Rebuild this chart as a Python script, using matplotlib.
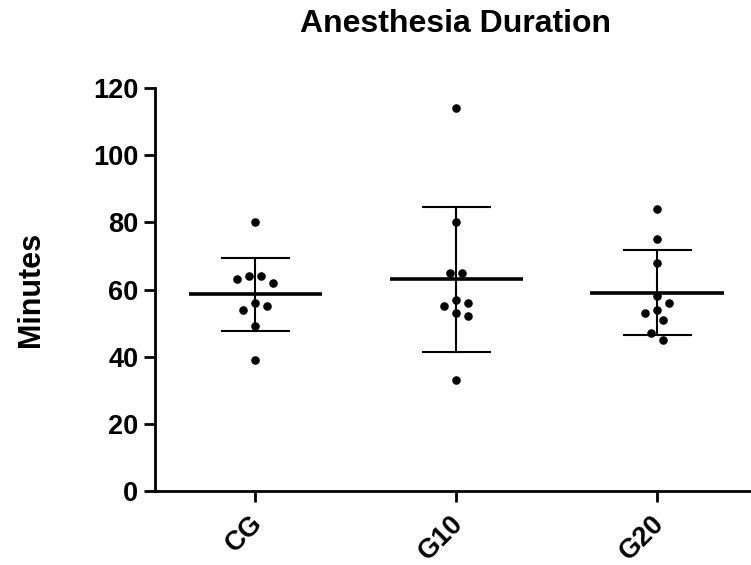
import numpy as np
import matplotlib
matplotlib.use("Agg")
import matplotlib.pyplot as plt
from matplotlib.transforms import ScaledTranslation

plt.rcParams['font.family'] = ['Liberation Sans', 'DejaVu Sans']
plt.rcParams['font.weight'] = 'bold'

# data (minutes)
groups = ['CG', 'G10', 'G20']
cg = [80, 64, 63, 62, 64, 56, 54, 55, 49, 39]
g10 = [114, 80, 65, 65, 56, 57, 55, 53, 52, 33]
g20 = [84, 75, 68, 58, 56, 54, 53, 51, 47, 45]
values = [cg, g10, g20]
yticks = [0, 20, 40, 60, 80, 100, 120]

fig = plt.figure(figsize=(7.51, 5.65), dpi=100)
ax = fig.add_axes([0.2064, 0.131, 0.7936, 0.7132])
ax.set_xlim(-0.5, 2.466)
ax.set_ylim(0, 120)


def swarm(vals, center, step_px=6.0, min_px=11.0, gap_px=12.5):
    # beeswarm in pixel space: greedy placement, then each cluster re-centred
    pts = ax.transData.transform([(center, v) for v in vals])
    ys = pts[:, 1]
    order = list(np.argsort(vals)[::-1])
    clusters = [[order[0]]]
    for a, b in zip(order[:-1], order[1:]):
        if ys[a] - ys[b] > gap_px:
            clusters.append([b])
        else:
            clusters[-1].append(b)
    cands = [0]
    for k in range(1, 8):
        cands += [k, -k]
    offs = np.zeros(len(vals))
    for cl in clusters:
        placed = []
        for i in cl:
            for c in cands:
                dx = c * step_px
                if all((dx - px) ** 2 + (ys[i] - py) ** 2 >= min_px ** 2 for px, py in placed):
                    break
            placed.append((dx, ys[i]))
            offs[i] = dx
        mid = (offs[cl].max() + offs[cl].min()) / 2
        offs[cl] -= round(mid / step_px) * step_px
    unit = ax.transData.transform([(1, 0)])[0, 0] - ax.transData.transform([(0, 0)])[0, 0]
    return center + offs / unit


for i, vals in enumerate(values):
    v = np.array(vals, dtype=float)
    m = v.mean()
    sd = v.std(ddof=1)
    xs = swarm(v, i)
    ax.scatter(xs, v, s=38, color='black', zorder=3, linewidths=0)
    ax.plot([i - 0.333, i + 0.333], [m, m], color='black', lw=2.6, zorder=2,
            solid_capstyle='butt')
    ax.plot([i, i], [m - sd, m + sd], color='black', lw=1.5, zorder=2)
    for e in (m - sd, m + sd):
        ax.plot([i - 0.17, i + 0.17], [e, e], color='black', lw=1.5, zorder=2,
                solid_capstyle='butt')

ax.spines['top'].set_visible(False)
ax.spines['right'].set_visible(False)
ax.spines['left'].set_linewidth(2)
ax.spines['bottom'].set_linewidth(2)

ax.set_yticks(yticks)
ax.set_yticklabels([str(t) for t in yticks], fontsize=19.5, fontweight='bold')
ax.set_xticks(range(len(groups)))
ax.set_xticklabels(groups, fontsize=19.5, fontweight='bold', rotation=45,
                   ha='right', va='top', rotation_mode='anchor')
ax.tick_params(axis='both', direction='out', length=8, width=2, pad=4)
ax.tick_params(axis='x', pad=3)
shift = ScaledTranslation(-6 / 100, -4 / 100, fig.dpi_scale_trans)
for lab in ax.get_xticklabels():
    lab.set_transform(lab.get_transform() + shift)

ax.set_ylabel('Minutes', fontsize=22, fontweight='bold', labelpad=34)
fig.text(0.606, 0.958, 'Anesthesia Duration', fontsize=23, fontweight='bold',
         ha='center', va='center')

fig.savefig('out.png', dpi=100)
